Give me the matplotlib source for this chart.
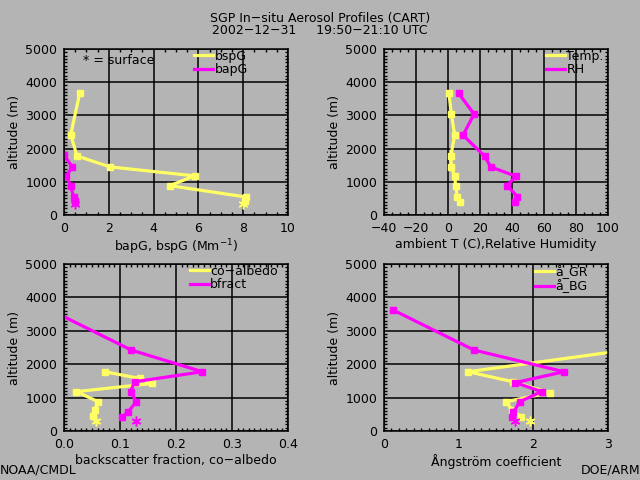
import numpy as np
import matplotlib.pyplot as plt
from matplotlib.ticker import MultipleLocator

plt.rcParams['font.family'] = ['DejaVu Sans']
plt.rcParams['font.size'] = 9

bg = '#b4b4b4'
yel = '#ffff64'
mag = '#ff00ff'

# top left: scattering / absorption (Mm-1)
alt_sp = [3660, 2420, 1780, 1450, 1180, 885, 545, 415]
bspG = [0.70, 0.30, 0.58, 2.04, 5.83, 4.72, 8.11, 8.07]
alt_ap = [1820, 1450, 1170, 885, 545, 415]
bapG = [-0.02, 0.37, 0.10, 0.30, 0.43, 0.48]
surf_sp = (8.0, 320)
surf_ap = (0.48, 320)

# top right: temperature and RH
alt_met = [3660, 3040, 2405, 1770, 1450, 1170, 885, 555, 405]
temp = [0.6, 2.1, 4.2, 1.7, 2.1, 4.2, 4.8, 5.8, 7.3]
rh = [6.7, 16.3, 9.4, 22.9, 26.7, 42.3, 37.1, 43.3, 41.7]

# bottom left: co-albedo and backscatter fraction
alt_co = [1775, 1575, 1425, 1180, 880, 630, 460]
coalb = [0.073, 0.135, 0.158, 0.022, 0.061, 0.055, 0.052]
alt_bf = [3620, 2425, 1775, 1475, 1180, 880, 560, 430]
bfract = [-0.024, 0.120, 0.247, 0.126, 0.119, 0.129, 0.114, 0.104]
surf_co = (0.058, 310)
surf_bf = (0.129, 310)

# bottom right: angstrom exponents
alt_gr = [2425, 1775, 1475, 1150, 880, 630, 430]
ang_gr = [3.25, 1.125, 1.73, 2.22, 1.64, 1.71, 1.84]
alt_bg = [3625, 2425, 1775, 1450, 1180, 880, 560, 430]
ang_bg = [0.12, 1.205, 2.41, 1.76, 2.11, 1.82, 1.73, 1.71]
surf_gr = (1.95, 310)
surf_bg = (1.76, 310)

fig = plt.figure(figsize=(6.4, 4.8), dpi=100, facecolor=bg)

boxes = [[0.1, 0.552, 0.35, 0.346], [0.6, 0.552, 0.35, 0.346],
         [0.1, 0.102, 0.35, 0.348], [0.6, 0.102, 0.35, 0.348]]
axs = [fig.add_axes(b, facecolor=bg) for b in boxes]

def style(ax, xlim, xmaj, xmin, xlabel, fmt=None):
    ax.set_xlim(*xlim)
    ax.set_ylim(0, 5000)
    ax.xaxis.set_major_locator(MultipleLocator(xmaj))
    ax.xaxis.set_minor_locator(MultipleLocator(xmin))
    ax.yaxis.set_major_locator(MultipleLocator(1000))
    ax.yaxis.set_minor_locator(MultipleLocator(100))
    if fmt:
        ax.xaxis.set_major_formatter(fmt)
    ax.grid(True, which='major', color='black', lw=1.1)
    ax.tick_params(which='both', direction='in', top=True, right=True, colors='black')
    ax.tick_params(which='major', length=0, pad=5)
    ax.tick_params(which='minor', length=2.5, width=1)
    for s in ax.spines.values():
        s.set_linewidth(1.1)
    ax.set_xlabel(xlabel, labelpad=2)
    ax.set_ylabel('altitude (m)', labelpad=3)
    ax.set_axisbelow(True)

def prof(ax, x, y, c, label):
    ax.plot(x, y, color=c, lw=2.3, marker='s', ms=4, mec=c, label=label, clip_on=True)

def star(ax, p, c):
    ax.plot([p[0]], [p[1]], ls='none', marker=(6, 2, 0), ms=7, mew=1.1, color=c)

def leg(ax, x0):
    ax.legend(loc='upper left', bbox_to_anchor=(x0, 1.01), frameon=False,
              handlelength=1.5, handletextpad=0.1, labelspacing=0.05,
              borderaxespad=0, borderpad=0.2, markerscale=0)

ax = axs[0]
prof(ax, bspG, alt_sp, yel, 'bspG')
prof(ax, bapG, alt_ap, mag, 'bapG')
star(ax, surf_sp, yel)
star(ax, surf_ap, mag)
style(ax, (0, 10), 2, 0.5, 'bapG, bspG (Mm$^{-1}$)')
ax.text(0.085, 0.93, '* = surface', transform=ax.transAxes, va='center', fontsize=9)
leg(ax, 0.571)

ax = axs[1]
prof(ax, temp, alt_met, yel, 'Temp.')
prof(ax, rh, alt_met, mag, 'RH')
style(ax, (-40, 100), 20, 5, 'ambient T (C),Relative Humidity')
ax.xaxis.set_major_formatter(lambda v, p: f'{v:.0f}'.replace('-', '\u2212'))
leg(ax, 0.714)

ax = axs[2]
prof(ax, coalb, alt_co, yel, 'co\u2212albedo')
prof(ax, bfract, alt_bf, mag, 'bfract')
star(ax, surf_co, yel)
star(ax, surf_bf, mag)
style(ax, (0, 0.4), 0.1, 0.01, 'backscatter fraction, co\u2212albedo')
ax.xaxis.set_major_formatter(lambda v, p: f'{v:.1f}')
leg(ax, 0.553)

ax = axs[3]
prof(ax, ang_gr, alt_gr, yel, '\u00e5_GR')
prof(ax, ang_bg, alt_bg, mag, '\u00e5_BG')
star(ax, surf_gr, yel)
star(ax, surf_bg, mag)
style(ax, (0, 3), 1, 0.1, '\u00c5ngstr\u00f6m coefficient')
leg(ax, 0.665)

fig.text(0.5, 0.962, 'SGP In\u2212situ Aerosol Profiles (CART)', ha='center', va='center')
fig.text(0.5, 0.937, '2002\u221212\u221231     19:50\u221221:10 UTC', ha='center', va='center')
fig.text(0.0, 0.021, 'NOAA/CMDL', ha='left', va='center')
fig.text(1.0, 0.021, 'DOE/ARM', ha='right', va='center')

fig.savefig('out.png', dpi=100, facecolor=bg)
